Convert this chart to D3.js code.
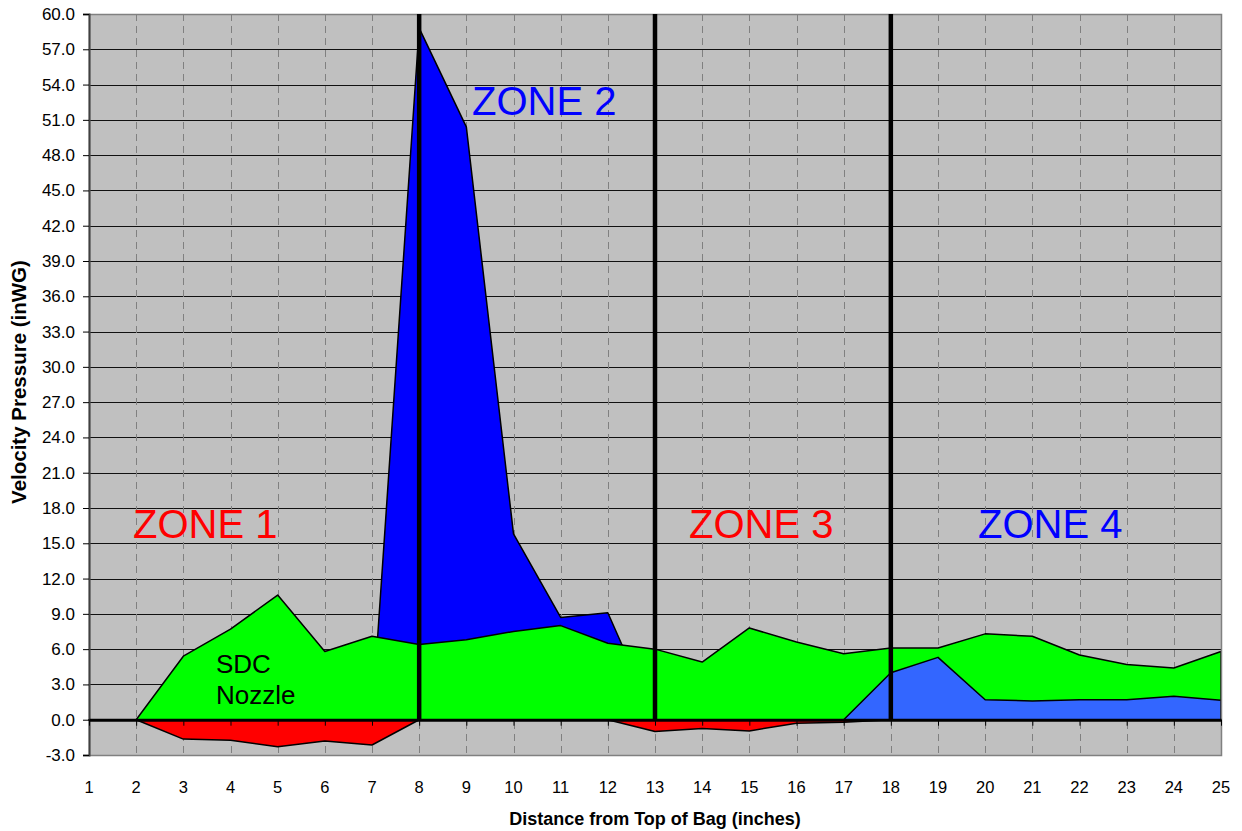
<!DOCTYPE html>
<html>
<head>
<meta charset="utf-8">
<script src="https://cdn.jsdelivr.net/npm/d3@7"></script>
<style>
  body { margin: 0; background: #fff; }
  text { font-family: Arial, "Liberation Sans", sans-serif; }
</style>
</head>
<body>
<div id="chart"></div>
<script>
// distance from top of bag, inches
var inches = [1,2,3,4,5,6,7,8,9,10,11,12,13,14,15,16,17,18,19,20,21,22,23,24,25];
// velocity pressure, inWG
var zone2 = [0,0,0,0,0,0,0,58.8,50.4,15.8,8.7,9.1,0,0,0,0,0,0,0,0,0,0,0,0,0];
var nozzle = [0,0,5.4,7.7,10.6,5.8,7.1,6.4,6.8,7.5,8.0,6.5,6.0,4.9,7.8,6.6,5.6,6.1,6.1,7.3,7.1,5.5,4.7,4.4,5.8];
var zone4 = [0,0,0,0,0,0,0,0,0,0,0,0,0,0,0,0,0,4.0,5.3,1.7,1.6,1.7,1.7,2.0,1.65];
var negative = [0,0,-1.65,-1.75,-2.3,-1.8,-2.15,0,0,0,0,0,-1.0,-0.75,-0.95,-0.3,-0.22,0,0,0,0,0,0,0,0];
var yTicks = d3.range(-3, 61, 3);
var zoneLines = [8, 13, 18];

var width = 1242, height = 831;
var plotL = 89, plotR = 1221, plotT = 14, plotB = 755;

var svg = d3.select("#chart").append("svg")
    .attr("width", width)
    .attr("height", height);

var x = d3.scaleLinear().domain([1, 25]).range([plotL, plotR]);
var y = d3.scaleLinear().domain([-3, 60]).range([plotB, plotT]);

// plot background
svg.append("rect")
    .attr("x", plotL).attr("y", plotT)
    .attr("width", plotR - plotL).attr("height", plotB - plotT)
    .attr("fill", "#c0c0c0");

// horizontal gridlines
svg.append("g").selectAll("line")
    .data(yTicks)
    .enter().append("line")
    .attr("x1", plotL).attr("x2", plotR)
    .attr("y1", function(d){ return Math.round(y(d)) + 0.5; })
    .attr("y2", function(d){ return Math.round(y(d)) + 0.5; })
    .attr("stroke", "#111")
    .attr("stroke-width", 1);

// vertical dashed gridlines
svg.append("g").selectAll("line")
    .data(inches.slice(1, -1))
    .enter().append("line")
    .attr("x1", function(d){ return Math.round(x(d)) + 0.5; })
    .attr("x2", function(d){ return Math.round(x(d)) + 0.5; })
    .attr("y1", plotT).attr("y2", plotB)
    .attr("stroke", "#808080")
    .attr("stroke-dasharray", "7,5");

var area = d3.area()
    .x(function(d, i){ return x(inches[i]); })
    .y0(y(0))
    .y1(function(d){ return y(d); });

// draw order matters: zone 2 behind the nozzle area, zone 4 in front
var series = [
    { values: zone2, color: "#0000ff" },
    { values: nozzle, color: "#00ff00" },
    { values: zone4, color: "#3366ff" },
    { values: negative, color: "#ff0000" }
];

svg.append("g").selectAll("path")
    .data(series)
    .enter().append("path")
    .attr("d", function(s){ return area(s.values); })
    .attr("fill", function(s){ return s.color; })
    .attr("stroke", "#000")
    .attr("stroke-width", 1.5)
    .attr("stroke-linejoin", "round");

// plot border
svg.append("rect")
    .attr("x", plotL + 0.5).attr("y", plotT + 0.5)
    .attr("width", plotR - plotL).attr("height", plotB - plotT)
    .attr("fill", "none")
    .attr("stroke", "#808080")
    .attr("stroke-width", 1.5);

// y axis (plain hyphen for negatives, like the original)
var fmt = d3.format(".1f");
var yAxis = svg.append("g")
    .attr("transform", "translate(" + plotL + ",0)")
    .call(d3.axisLeft(y).tickValues(yTicks)
        .tickFormat(function(d){ return fmt(d).replace("\u2212", "-"); })
        .tickSize(6).tickPadding(8));
yAxis.select(".domain").attr("stroke", "#404040").attr("stroke-width", 2);
yAxis.selectAll(".tick line").attr("stroke", "#000");
yAxis.selectAll("text").attr("font-size", "17px").attr("fill", "#000")
    .style("font-family", "Arial, 'Liberation Sans', sans-serif");

// x axis sits on zero, labels at the bottom
var xAxis = svg.append("g")
    .attr("transform", "translate(0," + y(0) + ")")
    .call(d3.axisBottom(x).tickValues(inches).tickFormat("").tickSize(6).tickSizeOuter(0));
xAxis.select(".domain").attr("stroke", "#000").attr("stroke-width", 3);
xAxis.selectAll(".tick line").attr("stroke", "#000");

svg.append("g").selectAll("text")
    .data(inches)
    .enter().append("text")
    .attr("x", function(d){ return x(d); })
    .attr("y", 793)
    .attr("text-anchor", "middle")
    .attr("font-size", "16.5px")
    .text(function(d){ return d; });

// zone divider lines
svg.append("g").selectAll("line")
    .data(zoneLines)
    .enter().append("line")
    .attr("x1", function(d){ return x(d); })
    .attr("x2", function(d){ return x(d); })
    .attr("y1", plotT).attr("y2", y(0))
    .attr("stroke", "#000")
    .attr("stroke-width", 4.5);

// annotations
var notes = [
    { t: "ZONE 1", x: 133, y: 538, c: "#ff0000" },
    { t: "ZONE 2", x: 472, y: 115, c: "#0000ff" },
    { t: "ZONE 3", x: 689, y: 538, c: "#ff0000" },
    { t: "ZONE 4", x: 978, y: 538, c: "#0000ff" }
];
svg.append("g").selectAll("text")
    .data(notes)
    .enter().append("text")
    .attr("x", function(d){ return d.x; })
    .attr("y", function(d){ return d.y; })
    .attr("fill", function(d){ return d.c; })
    .attr("font-size", "40px")
    .text(function(d){ return d.t; });

var sdc = svg.append("text")
    .attr("x", 216)
    .attr("font-size", "26px")
    .attr("fill", "#000");
sdc.append("tspan").attr("x", 216).attr("y", 673).text("SDC");
sdc.append("tspan").attr("x", 216).attr("y", 704).text("Nozzle");

// axis titles
svg.append("text")
    .attr("x", 655).attr("y", 825)
    .attr("text-anchor", "middle")
    .attr("font-size", "18px")
    .attr("font-weight", "bold")
    .text("Distance from Top of Bag (inches)");

svg.append("text")
    .attr("transform", "translate(26,382) rotate(-90)")
    .attr("text-anchor", "middle")
    .attr("font-size", "20.5px")
    .attr("font-weight", "bold")
    .text("Velocity Pressure (inWG)");
</script>
</body>
</html>
